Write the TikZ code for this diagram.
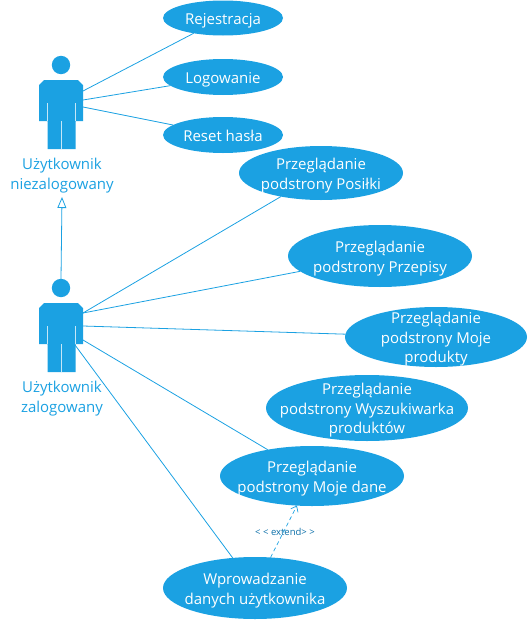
\documentclass[tikz,border=0pt]{standalone}
\usepackage{fontspec}
\setmainfont{Open Sans}
\usetikzlibrary{arrows.meta,shapes.geometric}
\definecolor{umlblue}{HTML}{1BA1E2}
\definecolor{extblue}{HTML}{0A6EA8}
\newcommand{\uctext}[1]{\vbox{\vskip5pt\hbox{\begin{tabular}{@{}c@{}}#1\end{tabular}}}}
\tikzset{
  x=1pt,y=-1pt,
  usecase/.style={ellipse,fill=umlblue,text=white,inner sep=-30pt,outer sep=0pt,font=\fontsize{15}{19.5}\selectfont},
  actorlabel/.style={text=umlblue,align=center,inner sep=0pt,font=\fontsize{15}{20}\selectfont},
  assoc/.style={draw=umlblue,line width=0.8pt},
  pics/actor/.style={code={
    \fill[umlblue] (0,-23) circle (9.2);
    \fill[umlblue] (-17,-8) -- (17,-8) -- (22,-3) -- (22,33) -- (14.5,33) -- (14.5,61) -- (-13.5,61) -- (-13.5,33) -- (-22,33) -- (-22,-3) -- cycle;
    \draw[white,opacity=.75,line width=.8pt] (-13.5,15) -- (-13.5,33) (14.5,15) -- (14.5,33) (0.5,33) -- (0.5,61);
  }}
}
\begin{document}
\begin{tikzpicture}
\useasboundingbox (0,0) rectangle (530,621);
\pic at (61,88) {actor};
\pic at (61,311) {actor};
\coordinate (a1a) at (83,91);
\coordinate (a1b) at (83,100);
\coordinate (a1c) at (83,107);
\coordinate (a2top) at (61,279);
\coordinate (a2a) at (83,313);
\coordinate (a2c) at (83,326);
\coordinate (a2d) at (83,340);
\coordinate (a2e) at (75,345);
\node[actorlabel] (l1) at (62,176) {Użytkownik\\niezalogowany};
\node[actorlabel] (l2) at (62,399) {Użytkownik\\zalogowany};
\node[usecase,minimum width=120pt,minimum height=35pt] (rej) at (223,18) {\uctext{Rejestracja}};
\node[usecase,minimum width=120pt,minimum height=36pt] (log) at (223,77) {\uctext{Logowanie}};
\node[usecase,minimum width=120pt,minimum height=36pt] (res) at (223,135) {\uctext{Reset hasła}};
\node[usecase,minimum width=164pt,minimum height=54pt] (pos) at (321,173) {\uctext{Przeglądanie\\podstrony Posiłki}};
\node[usecase,minimum width=184pt,minimum height=62pt] (prz) at (380,256) {\uctext{Przeglądanie\\podstrony Przepisy}};
\node[usecase,minimum width=182pt,minimum height=60pt] (pro) at (436,337) {\uctext{Przeglądanie\\podstrony Moje\\produkty}};
\node[usecase,minimum width=202pt,minimum height=66pt] (wys) at (367,408) {\uctext{Przeglądanie\\podstrony Wyszukiwarka\\produktów}};
\node[usecase,minimum width=184pt,minimum height=60pt] (dan) at (312,476) {\uctext{Przeglądanie\\podstrony Moje dane}};
\node[usecase,minimum width=184pt,minimum height=62pt] (wpr) at (255,588) {\uctext{Wprowadzanie\\danych użytkownika}};
\draw[assoc] (a1a) -- (rej);
\draw[assoc] (a1b) -- (log);
\draw[assoc] (a1c) -- (res);
\draw[assoc] (a2a) -- (pos);
\draw[assoc] (a2a) -- (prz);
\draw[assoc] (a2c) -- (pro);
\draw[assoc] (a2d) -- (dan);
\draw[assoc] (a2e) -- (wpr);
\coordinate (gentip) at (62,197);
\draw[assoc,-{Triangle[open,length=11pt,width=9pt,fill=white]}] (a2top) -- (gentip);
\draw[draw=umlblue,line width=.7pt,dashed,dash pattern=on 4pt off 3pt,-{Straight Barb[length=5pt,width=8pt]}] (wpr) -- (dan);
\node[text=extblue,inner sep=0pt,font=\fontsize{9.5}{11}\selectfont] (ext) at (285,532) {< < extend> >};
\end{tikzpicture}
\end{document}
